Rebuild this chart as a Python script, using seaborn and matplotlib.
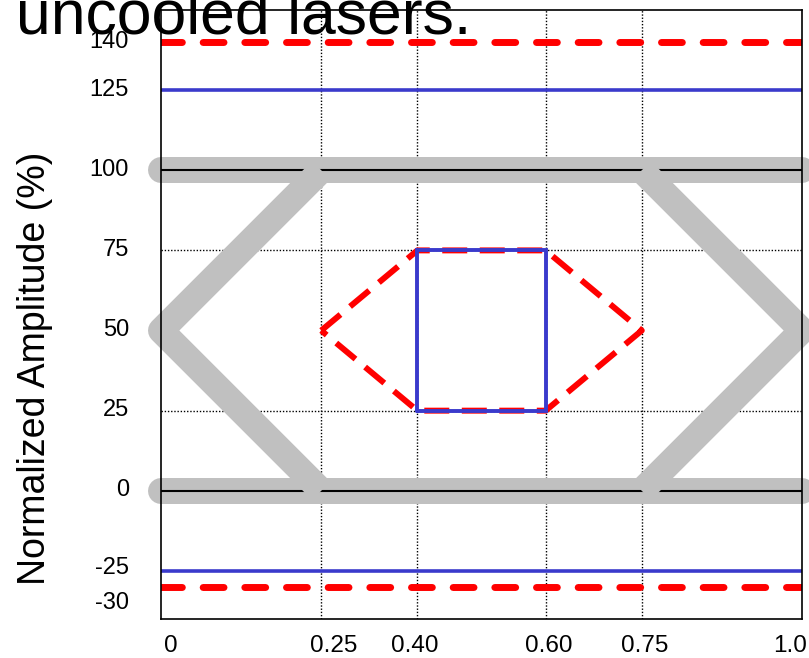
import matplotlib
matplotlib.use("Agg")
import matplotlib.pyplot as plt
import matplotlib.transforms as mtransforms
import seaborn as sns

# Eye-mask polygon (hexagon) and the inner eye-opening box
mask_x = [0.25, 0.40, 0.60, 0.75, 0.60, 0.40, 0.25]
mask_y = [50, 75, 75, 50, 25, 25, 50]
box_x = [0.40, 0.60, 0.60, 0.40, 0.40]
box_y = [25, 25, 75, 75, 25]

# Idealised eye trace: two rails and the crossing chevrons
rail_x = [0.0, 1.0]
rail_levels = [0, 100]
eye_left_x = [0.25, 0.0, 0.25]
eye_left_y = [100, 50, 0]
eye_right_x = [0.75, 1.0, 0.75]
eye_right_y = [100, 50, 0]

# Overshoot / undershoot limits
red_limits = [140, -30]
blue_limits = [125, -25]

x_ticks = [0, 0.25, 0.40, 0.60, 0.75, 1.0]
x_tick_labels = ["0", "0.25", "0.40", "0.60", "0.75", "1.0"]
y_ticks = [-30, -25, 0, 25, 50, 75, 100, 125, 140]
y_tick_labels = ["-30", "-25", "0", "25", "50", "75", "100", "125", "140"]
grid_x = [0.25, 0.40, 0.60, 0.75]
grid_y = [25, 75]

sns.set_theme(style="white")
plt.rcParams["font.family"] = ["Liberation Sans", "DejaVu Sans"]
plt.rcParams["lines.scale_dashes"] = False

W, H = 809, 658
fig = plt.figure(figsize=(W / 100, H / 100), dpi=100)
ax = fig.add_axes([161 / W, 1 - 619 / H, (802 - 161) / W, (619 - 10) / H])
ax.set_xlim(0, 1.0)
ax.set_ylim(-40, 150)

RED = "#ff0000"
BLUE = "#3a3acc"
GRAY = "#c0c0c0"


def trace(x, y, color, **style):
    n = len(ax.lines)
    sns.lineplot(x=x, y=y, sort=False, estimator=None, ax=ax,
                 color=color, legend=False)
    line = ax.lines[n]
    line.set(**style)
    return line


# dotted grid
for gx in grid_x:
    ax.axvline(gx, color="black", lw=1.0, dashes=(1, 1.3), zorder=1)
for gy in grid_y:
    ax.axhline(gy, color="black", lw=1.0, dashes=(1, 1.3), zorder=1)

# gray rails with thin black centre lines
for level in rail_levels:
    trace(rail_x, [level, level], GRAY, lw=18.7, solid_capstyle="round",
          clip_on=False, zorder=2)
    trace(rail_x, [level, level], "black", lw=1.5, zorder=3)

# gray crossing chevrons
for ex, ey in [(eye_left_x, eye_left_y), (eye_right_x, eye_right_y)]:
    trace(ex, ey, GRAY, lw=18.7, solid_joinstyle="round",
          solid_capstyle="butt", clip_on=False, zorder=4)

# red dashed mask hexagon
trace(mask_x, mask_y, RED, lw=4.3, dashes=(18, 9), dash_capstyle="butt",
      zorder=5)
# blue eye-opening box
trace(box_x, box_y, BLUE, lw=2.8, solid_joinstyle="miter", zorder=6)

# limit lines
for lvl in red_limits:
    trace(rail_x, [lvl, lvl], RED, lw=5, dashes=(15, 15),
          dash_capstyle="round", zorder=5)
for lvl in blue_limits:
    trace(rail_x, [lvl, lvl], BLUE, lw=2.6, zorder=5)

# axes frame and ticks
for sp in ax.spines.values():
    sp.set_color("black")
    sp.set_linewidth(1.2)
    sp.set_zorder(7)

ax.set_xticks(x_ticks, x_tick_labels)
ax.set_yticks(y_ticks, y_tick_labels)
ax.tick_params(axis="x", length=0, pad=11.5, labelsize=17.5, colors="black")
ax.tick_params(axis="y", length=0, pad=23, labelsize=17, colors="black")
ax.set_xlabel("")
ax.set_ylabel("")

# nudge individual tick labels (pixel offsets)
x_shift = [10, 12, -3, 3, 3, -12]
y_shift = [-14, 5, 3, 3, 3, 3, 3, 3, 3]
for lab, dx in zip(ax.get_xticklabels(), x_shift):
    lab.set_transform(lab.get_transform() +
                      mtransforms.ScaledTranslation(dx / 100, 0, fig.dpi_scale_trans))
for lab, dy in zip(ax.get_yticklabels(), y_shift):
    lab.set_transform(lab.get_transform() +
                      mtransforms.ScaledTranslation(0, dy / 100, fig.dpi_scale_trans))

fig.text(35 / W, 1 - 368 / H, "Normalized Amplitude (%)", rotation=90,
         ha="center", va="center", fontsize=27, color="black")
fig.text(16 / W, 1 - 34 / H, "uncooled lasers.", ha="left", va="baseline",
         fontsize=45, color="black")

fig.savefig("out.png", dpi=100)
